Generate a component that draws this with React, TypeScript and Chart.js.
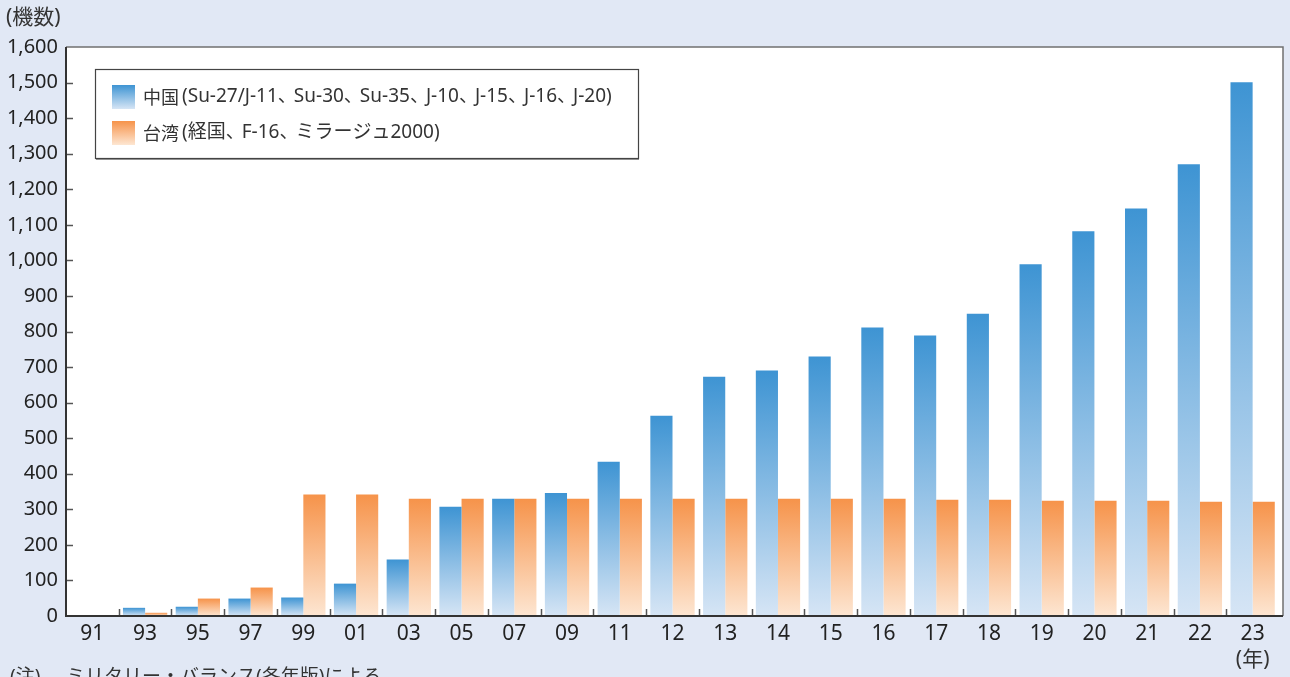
import React, { useEffect, useRef } from 'react';
import { Chart, registerables } from 'chart.js';

Chart.register(...registerables);

const categories = ['91', '93', '95', '97', '99', '01', '03', '05', '07', '09', '11', '12', '13', '14', '15', '16', '17', '18', '19', '20', '21', '22', '23'];
const chinaValues = [0, 23, 26, 49, 52, 91, 159, 307, 330, 346, 434, 563, 673, 690, 730, 811, 789, 850, 989, 1082, 1146, 1270, 1501];
const taiwanValues = [0, 9, 49, 80, 342, 342, 330, 330, 330, 330, 330, 330, 330, 330, 330, 330, 327, 327, 324, 324, 324, 321, 321];
const yMin = 0;
const yMax = 1600;
const yStep = 100;

const chinaName = '中国';
const chinaDetail = '(Su-27/J-11、Su-30、Su-35、J-10、J-15、J-16、J-20)';
const taiwanName = '台湾';
const taiwanDetail = '(経国、F-16、ミラージュ2000)';
const yTitle = '(機数)';
const xUnit = '(年)';
const noteHead = '(注)';
const noteBody = 'ミリタリー・バランス(各年版)による';

const BLUE_TOP = '#3e94d3';
const BLUE_BOTTOM = '#d6e5f5';
const ORANGE_TOP = '#f6934a';
const ORANGE_BOTTOM = '#fde6d2';
const PAGE_BG = '#e1e8f5';
const FONT = '"Noto Sans", "Noto Sans CJK JP", sans-serif';

function barGradient(top: string, bottom: string) {
  return (c: any) => {
    const chart = c.chart;
    if (c.type !== 'data' || !chart.chartArea || !chart.scales || !chart.scales.y) return top;
    const v = c.parsed ? c.parsed.y : c.raw;
    const ys = chart.scales.y;
    const t = ys.getPixelForValue(v);
    const b = ys.getPixelForValue(0);
    if (!isFinite(t) || !isFinite(b) || b - t < 1) return top;
    const g = chart.ctx.createLinearGradient(0, t, 0, b);
    g.addColorStop(0, top);
    g.addColorStop(1, bottom);
    return g;
  };
}

const decorPlugin = {
  id: 'decor',
  beforeDraw(chart: any) {
    const { ctx, chartArea: a } = chart;
    ctx.save();
    ctx.fillStyle = PAGE_BG;
    ctx.fillRect(0, 0, chart.width, chart.height);
    ctx.fillStyle = '#ffffff';
    ctx.fillRect(a.left, a.top, a.right + 4 - a.left, a.bottom - a.top);
    ctx.restore();
  },
  afterDatasetsDraw(chart: any) {
    const { ctx, chartArea: a, scales } = chart;
    const xs = scales.x;
    const ys = scales.y;
    const right = a.right + 4;
    ctx.save();
    // frame
    ctx.strokeStyle = '#707070';
    ctx.lineWidth = 1.5;
    ctx.beginPath();
    ctx.moveTo(a.left, a.top);
    ctx.lineTo(right, a.top);
    ctx.lineTo(right, a.bottom);
    ctx.stroke();
    // y ticks inside
    ctx.strokeStyle = '#555555';
    ctx.lineWidth = 1.5;
    for (let v = yMin + yStep; v < yMax; v += yStep) {
      const y = Math.round(ys.getPixelForValue(v)) + 0.5;
      ctx.beginPath();
      ctx.moveTo(a.left, y);
      ctx.lineTo(a.left + 7, y);
      ctx.stroke();
    }
    // x ticks between categories
    for (let i = 1; i < categories.length; i++) {
      const x = Math.round((xs.getPixelForValue(i - 1) + xs.getPixelForValue(i)) / 2) + 0.5;
      ctx.beginPath();
      ctx.moveTo(x, a.bottom);
      ctx.lineTo(x, a.bottom - 7);
      ctx.stroke();
    }
    // axes
    ctx.strokeStyle = '#333333';
    ctx.lineWidth = 2;
    ctx.beginPath();
    ctx.moveTo(a.left, a.top);
    ctx.lineTo(a.left, a.bottom);
    ctx.lineTo(right, a.bottom);
    ctx.stroke();

    // legend box
    const lx = a.left + 29;
    const ly = a.top + 22;
    const lw = 543;
    const lh = 89;
    ctx.fillStyle = '#ffffff';
    ctx.fillRect(lx, ly, lw, lh);
    ctx.strokeStyle = '#9a9a9a';
    ctx.lineWidth = 2;
    ctx.beginPath();
    ctx.moveTo(lx + 1, ly + lh + 1);
    ctx.lineTo(lx + lw + 1, ly + lh + 1);
    ctx.stroke();
    ctx.strokeStyle = '#444444';
    ctx.lineWidth = 1.2;
    ctx.strokeRect(lx + 0.5, ly + 0.5, lw, lh);

    const rows = [
      { name: chinaName, detail: chinaDetail, top: BLUE_TOP, bottom: BLUE_BOTTOM },
      { name: taiwanName, detail: taiwanDetail, top: ORANGE_TOP, bottom: ORANGE_BOTTOM },
    ];
    rows.forEach((r, i) => {
      const sy = ly + 16 + i * 36;
      const sx = lx + 17;
      const g = ctx.createLinearGradient(0, sy, 0, sy + 24);
      g.addColorStop(0, r.top);
      g.addColorStop(1, r.bottom);
      ctx.fillStyle = g;
      ctx.fillRect(sx, sy, 23, 24);
      const ty = sy + 12;
      let tx = sx + 31;
      ctx.fillStyle = '#333333';
      ctx.textBaseline = 'middle';
      ctx.textAlign = 'left';
      ctx.font = '18px "Noto Sans CJK JP", sans-serif';
      ctx.fillText(r.name, tx, ty);
      tx += ctx.measureText(r.name).width + 3;
      const size = 19;
      ctx.font = `${size}px ${FONT}`;
      const parts = r.detail.split('、');
      parts.forEach((p, k) => {
        ctx.fillText(p, tx, ty);
        tx += ctx.measureText(p).width;
        if (k < parts.length - 1) {
          ctx.fillText('、', tx, ty);
          tx += 16;
        }
      });
    });
    ctx.restore();
  },
  afterDraw(chart: any) {
    const { ctx, chartArea: a, scales } = chart;
    const xs = scales.x;
    ctx.save();
    ctx.fillStyle = '#333333';
    ctx.textBaseline = 'middle';
    ctx.textAlign = 'left';
    ctx.font = `21px ${FONT}`;
    ctx.fillText(yTitle, 6, 18);
    ctx.textAlign = 'center';
    ctx.fillText(xUnit, xs.getPixelForValue(categories.length - 1), a.bottom + 44);
    ctx.textAlign = 'left';
    ctx.font = `19px ${FONT}`;
    ctx.fillText(noteHead, 10, a.bottom + 62);
    ctx.fillText(noteBody, 66, a.bottom + 62);
    ctx.restore();
  },
};

export default function App() {
  const ref = useRef<HTMLCanvasElement | null>(null);
  useEffect(() => {
    if (!ref.current) return;
    const chart = new Chart(ref.current, {
      type: 'bar',
      data: {
        labels: categories,
        datasets: [
          {
            label: chinaName + chinaDetail,
            data: chinaValues,
            backgroundColor: barGradient(BLUE_TOP, BLUE_BOTTOM),
            borderWidth: 0,
            categoryPercentage: 0.84,
            barPercentage: 1,
          },
          {
            label: taiwanName + taiwanDetail,
            data: taiwanValues,
            backgroundColor: barGradient(ORANGE_TOP, ORANGE_BOTTOM),
            borderWidth: 0,
            categoryPercentage: 0.84,
            barPercentage: 1,
          },
        ],
      },
      options: {
        responsive: false,
        animation: false,
        layout: { padding: { left: 0, top: 47, right: 11, bottom: 0 } },
        plugins: {
          legend: { display: false },
          tooltip: { enabled: false },
        },
        scales: {
          x: {
            grid: { display: false, drawTicks: false },
            border: { display: false },
            ticks: {
              color: '#222222',
              font: { family: FONT, size: 21 },
              padding: 5,
              maxRotation: 0,
              autoSkip: false,
            },
            afterFit: (s: any) => {
              s.height = 61;
            },
          },
          y: {
            min: yMin,
            max: yMax,
            grid: { display: false, drawTicks: false },
            border: { display: false },
            ticks: {
              stepSize: yStep,
              color: '#222222',
              font: { family: FONT, size: 20 },
              padding: 8,
              callback: (v: any) => Number(v).toLocaleString('en-US'),
            },
            afterFit: (s: any) => {
              s.width = 66;
            },
          },
        },
      },
      plugins: [decorPlugin],
    });
    return () => chart.destroy();
  }, []);
  return (
    <div style={{ position: 'fixed', left: 0, top: 0, width: 1290, height: 677, background: PAGE_BG }}>
      <canvas ref={ref} width={1290} height={677} style={{ display: 'block' }} />
    </div>
  );
}
